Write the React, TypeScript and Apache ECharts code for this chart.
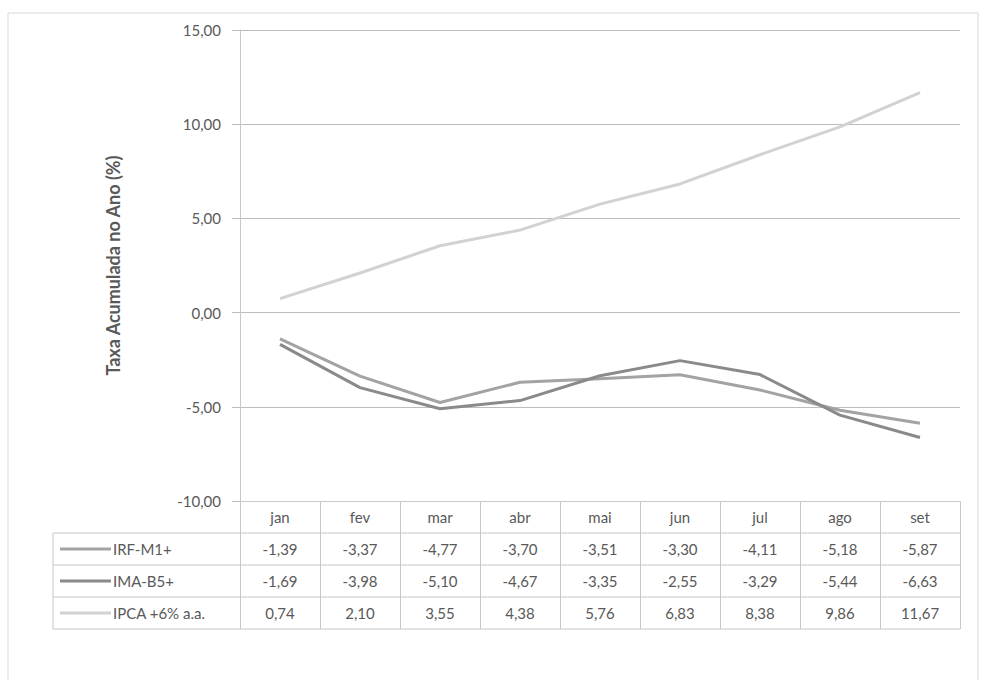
import { useEffect, useRef } from 'react';
import * as echarts from 'echarts';

const months = ['jan', 'fev', 'mar', 'abr', 'mai', 'jun', 'jul', 'ago', 'set'];
const seriesNames = ['IRF-M1+', 'IMA-B5+', 'IPCA +6% a.a.'];
const irfM1 = [-1.39, -3.37, -4.77, -3.70, -3.51, -3.30, -4.11, -5.18, -5.87];
const imaB5 = [-1.69, -3.98, -5.10, -4.67, -3.35, -2.55, -3.29, -5.44, -6.63];
const ipca = [0.74, 2.10, 3.55, 4.38, 5.76, 6.83, 8.38, 9.86, 11.67];
const seriesColors = ['#a3a3a3', '#8a8a8a', '#d2d2d2'];

const fmt = (v: number) => v.toFixed(2).replace('.', ',');

const App = () => {
    const chartRef = useRef<HTMLDivElement | null>(null);

    useEffect(() => {
        document.body.style.margin = '0';
        if (!chartRef.current) return;
        const myChart = echarts.init(chartRef.current, null, { renderer: 'svg' });

        const rows = [irfM1, imaB5, ipca];
        const left = 240, right = 960, axisY = 501, rowH = 32, tableLeft = 53;
        const textColor = '#595959';
        const border = '#c8c8c8';

        const tableAxis = (labels: string[], offset: number, idx: number) => ({
            type: 'category',
            gridIndex: 0,
            position: 'bottom',
            offset,
            data: labels,
            boundaryGap: true,
            axisLine: { show: idx === 0, onZero: false, lineStyle: { color: border, width: 1 } },
            axisTick: { show: idx === 0, length: rowH * 4, lineStyle: { color: border } },
            axisLabel: {
                color: textColor,
                fontFamily: 'Lato',
                fontSize: 15,
                verticalAlign: 'middle',
                margin: 16,
            },
            splitLine: { show: false },
        });

        const graphics: any[] = [
            {
                type: 'rect',
                shape: { x: 8, y: 13, width: 970, height: 700 },
                style: { fill: 'none', stroke: '#d9d9d9', lineWidth: 1 },
                silent: true,
            },
            {
                type: 'line',
                shape: { x1: tableLeft, y1: axisY + rowH, x2: tableLeft, y2: axisY + rowH * 4 },
                style: { stroke: border, lineWidth: 1 },
            },
        ];
        for (let r = 1; r <= 4; r++) {
            graphics.push({
                type: 'line',
                shape: { x1: tableLeft, y1: axisY + rowH * r, x2: right, y2: axisY + rowH * r },
                style: { stroke: border, lineWidth: 1 },
            });
        }
        seriesNames.forEach((name, i) => {
            const cy = axisY + rowH * (i + 1) + rowH / 2;
            graphics.push({
                type: 'line',
                shape: { x1: 60, y1: cy, x2: 111, y2: cy },
                style: { stroke: seriesColors[i], lineWidth: 3 },
            });
            graphics.push({
                type: 'text',
                x: 113,
                y: cy,
                style: {
                    text: name,
                    fill: textColor,
                    font: '15px Lato',
                    verticalAlign: 'middle',
                    align: 'left',
                },
            });
        });

        const option = {
            animation: false,
            grid: { left, right: 984 - right, top: 30, bottom: 680 - axisY },
            xAxis: [
                tableAxis(months, 0, 0),
                ...rows.map((r, i) => tableAxis(r.map(fmt), rowH * (i + 1), i + 1)),
            ],
            yAxis: {
                type: 'value',
                min: -10,
                max: 15,
                interval: 5,
                name: 'Taxa Acumulada no Ano (%)',
                nameLocation: 'middle',
                nameGap: 118,
                nameTextStyle: { color: textColor, fontFamily: 'Lato', fontSize: 18, fontWeight: 'bold' },
                axisLine: { show: true, lineStyle: { color: border } },
                axisTick: { show: true, length: 8, lineStyle: { color: '#bdbdbd' } },
                axisLabel: {
                    color: textColor,
                    fontFamily: 'Lato',
                    fontSize: 15,
                    margin: 19,
                    formatter: (v: number) => fmt(v),
                },
                splitLine: { show: true, lineStyle: { color: '#bdbdbd', width: 1 } },
            },
            series: rows.map((data, i) => ({
                name: seriesNames[i],
                type: 'line',
                xAxisIndex: 0,
                data,
                symbol: 'none',
                lineStyle: { color: seriesColors[i], width: 3 },
                itemStyle: { color: seriesColors[i] },
            })),
            graphic: graphics,
        };

        myChart.setOption(option);

        return () => {
            myChart.dispose();
        };
    }, []);

    return <div ref={chartRef} style={{ width: '984px', height: '680px' }} />;
};

export default App;
